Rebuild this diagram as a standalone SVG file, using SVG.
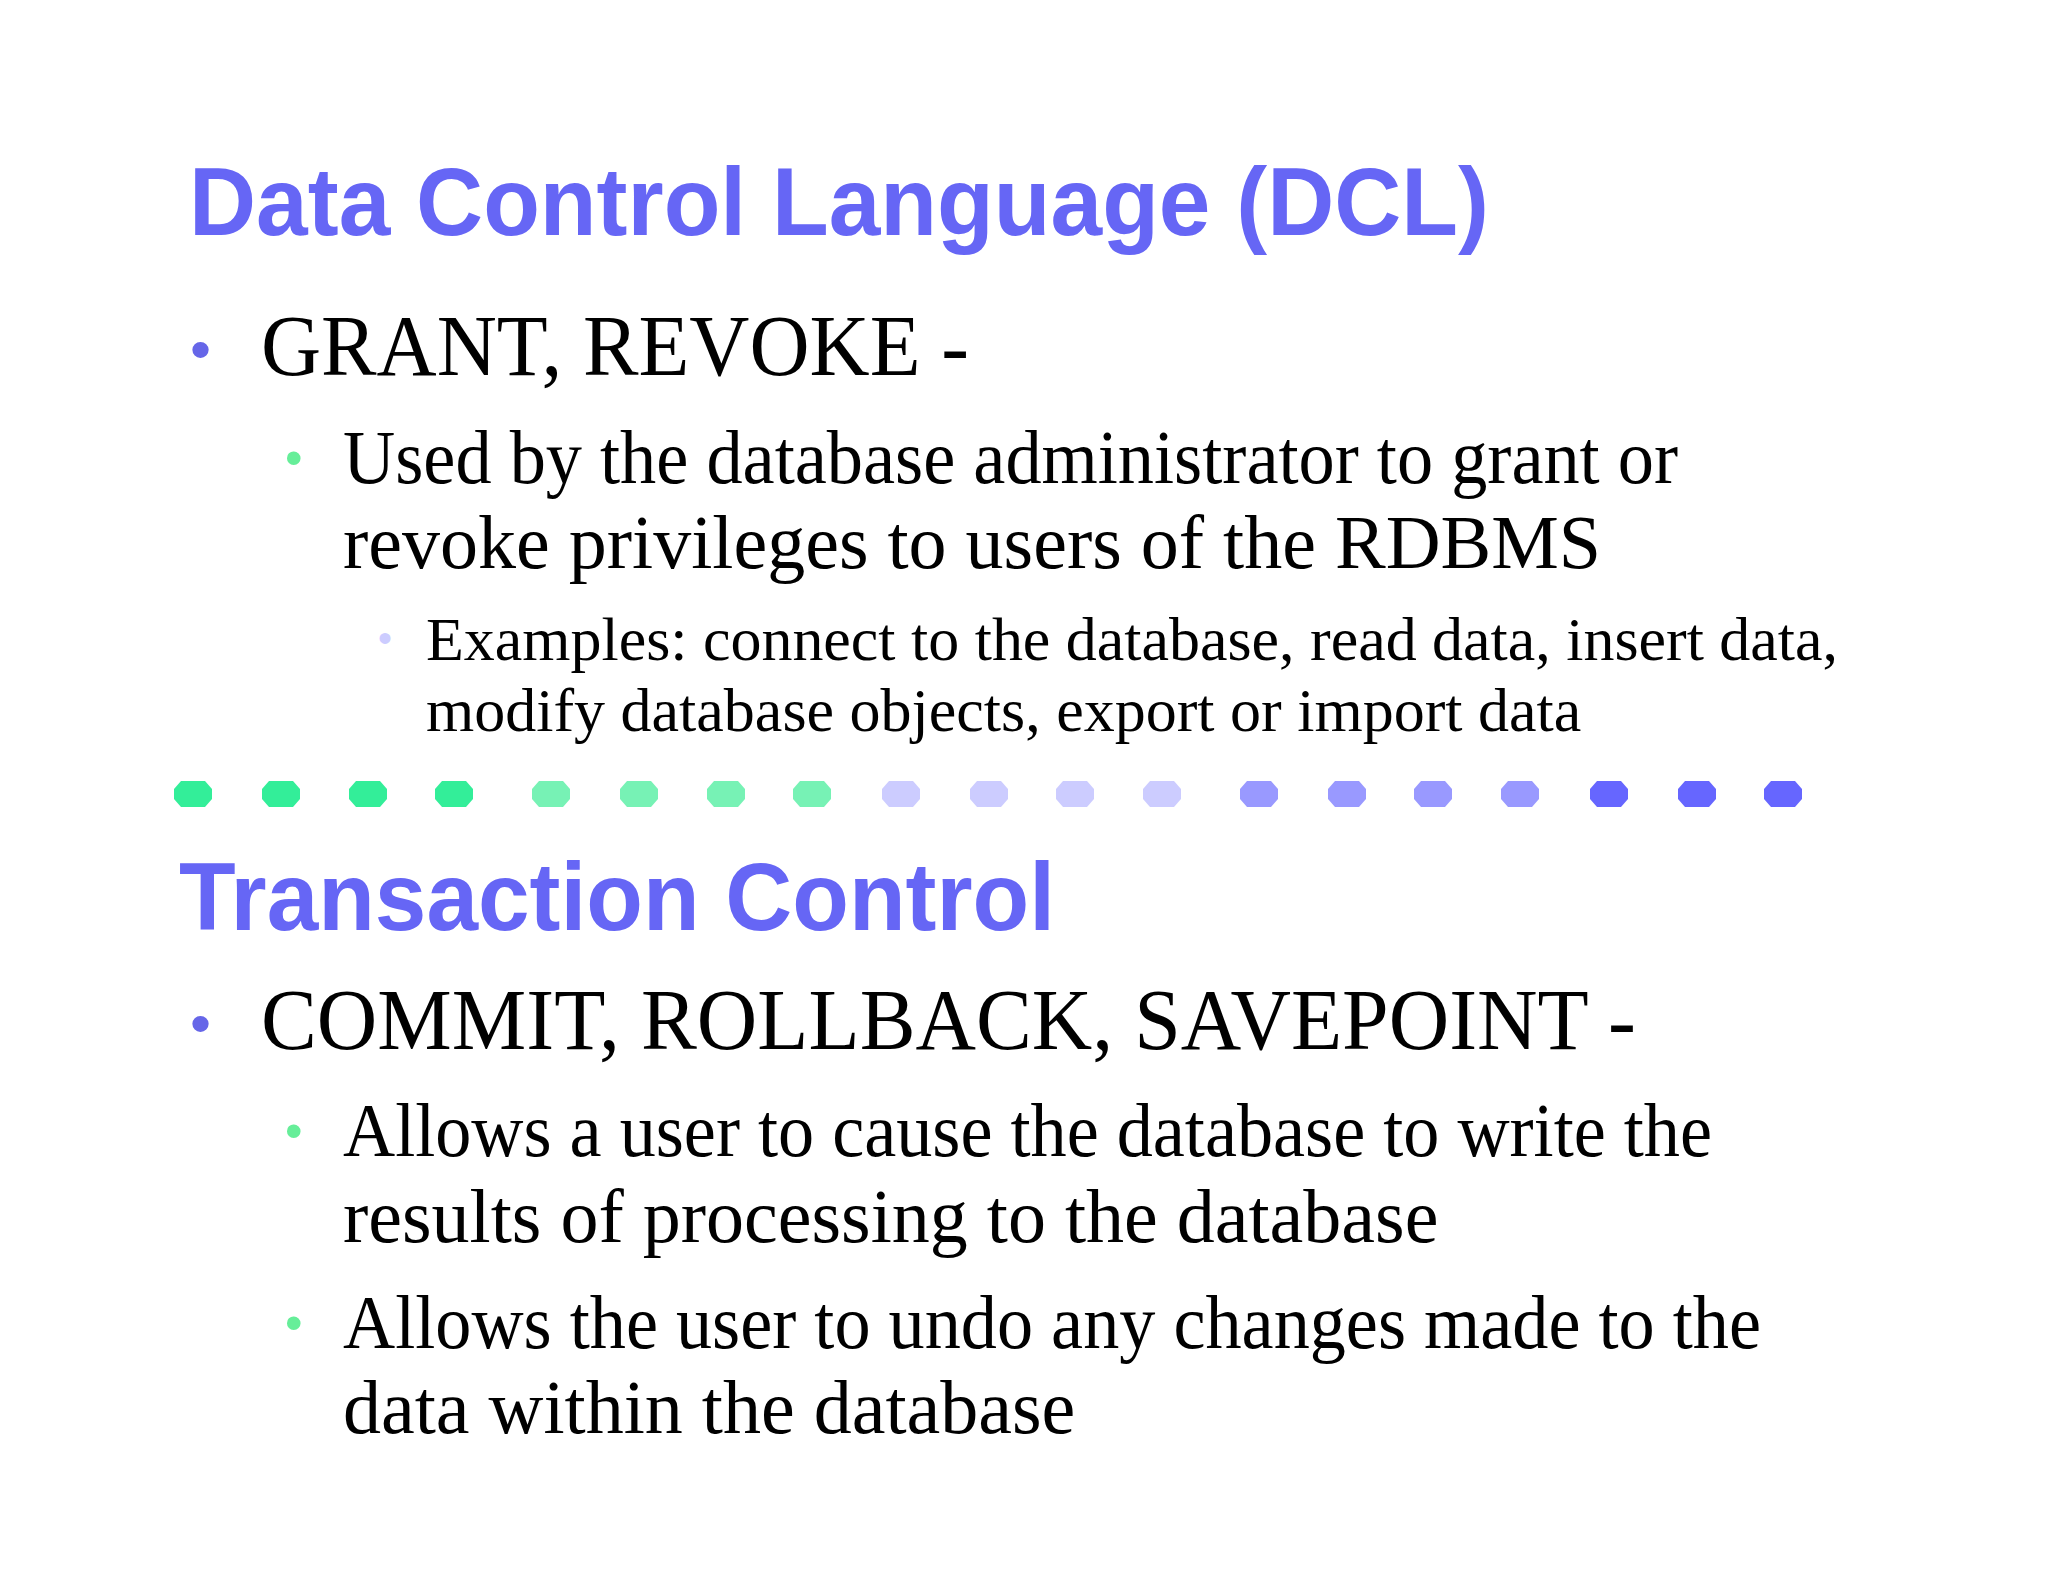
<svg xmlns="http://www.w3.org/2000/svg" width="2048" height="1582" viewBox="0 0 2048 1582">
<style>
.t{font-family:"Liberation Sans",Arial,sans-serif;font-weight:bold;fill:#6666f5;font-size:97px}
.b1{font-family:"Liberation Serif","Times New Roman",serif;fill:#000;font-size:86px}
.b2{font-family:"Liberation Serif","Times New Roman",serif;fill:#000;font-size:76px}
.b3{font-family:"Liberation Serif","Times New Roman",serif;fill:#000;font-size:62px}
.d1{font-family:"Liberation Sans",Arial,sans-serif;fill:#6666e8;font-size:60px}
.d2{font-family:"Liberation Sans",Arial,sans-serif;fill:#66ee99;font-size:50px}
.d3{font-family:"Liberation Sans",Arial,sans-serif;fill:#ccccff;font-size:40px}
</style>
<defs>
<polygon id="dot" points="-12,-13 12,-13 19,-5 19,5 12,13 -12,13 -19,5 -19,-5"/>
</defs>
<rect width="2048" height="1582" fill="#ffffff"/>
<g id="dcl">
<text class="t" x="189" y="235" textLength="1300" lengthAdjust="spacingAndGlyphs">Data Control Language (DCL)</text>
<text class="d1" x="190" y="370">•</text>
<text class="b1" x="261" y="375" textLength="708" lengthAdjust="spacingAndGlyphs">GRANT, REVOKE -</text>
<text class="d2" x="285" y="475">•</text>
<text class="b2" x="343" y="483" textLength="1335" lengthAdjust="spacingAndGlyphs">Used by the database administrator to grant or</text>
<text class="b2" x="343" y="568">revoke privileges to users of the RDBMS</text>
<text class="d3" x="378" y="652">•</text>
<text class="b3" x="426" y="660" textLength="1412" lengthAdjust="spacingAndGlyphs">Examples: connect to the database, read data, insert data,</text>
<text class="b3" x="426" y="731">modify database objects, export or import data</text>
</g>
<g id="divider">
<use href="#dot" x="193" y="794" fill="#33ee99"/>
<use href="#dot" x="281" y="794" fill="#33ee99"/>
<use href="#dot" x="368" y="794" fill="#33ee99"/>
<use href="#dot" x="454" y="794" fill="#33ee99"/>
<use href="#dot" x="551" y="794" fill="#77f2b5"/>
<use href="#dot" x="639" y="794" fill="#77f2b5"/>
<use href="#dot" x="726" y="794" fill="#77f2b5"/>
<use href="#dot" x="812" y="794" fill="#77f2b5"/>
<use href="#dot" x="901" y="794" fill="#ccccff"/>
<use href="#dot" x="989" y="794" fill="#ccccff"/>
<use href="#dot" x="1075" y="794" fill="#ccccff"/>
<use href="#dot" x="1162" y="794" fill="#ccccff"/>
<use href="#dot" x="1259" y="794" fill="#9999ff"/>
<use href="#dot" x="1347" y="794" fill="#9999ff"/>
<use href="#dot" x="1433" y="794" fill="#9999ff"/>
<use href="#dot" x="1520" y="794" fill="#9999ff"/>
<use href="#dot" x="1609" y="794" fill="#6666ff"/>
<use href="#dot" x="1697" y="794" fill="#6666ff"/>
<use href="#dot" x="1783" y="794" fill="#6666ff"/>
</g>
<g id="tc">
<text class="t" x="179" y="930" textLength="876" lengthAdjust="spacingAndGlyphs">Transaction Control</text>
<text class="d1" x="190" y="1044">•</text>
<text class="b1" x="261" y="1049" textLength="1375" lengthAdjust="spacingAndGlyphs">COMMIT, ROLLBACK, SAVEPOINT -</text>
<text class="d2" x="285" y="1148">•</text>
<text class="b2" x="343" y="1156" textLength="1369" lengthAdjust="spacingAndGlyphs">Allows a user to cause the database to write the</text>
<text class="b2" x="343" y="1242">results of processing to the database</text>
<text class="d2" x="285" y="1340">•</text>
<text class="b2" x="343" y="1348" textLength="1418" lengthAdjust="spacingAndGlyphs">Allows the user to undo any changes made to the</text>
<text class="b2" x="343" y="1433">data within the database</text>
</g>
</svg>
